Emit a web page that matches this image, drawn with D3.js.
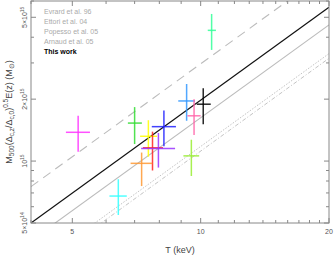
<!DOCTYPE html>
<html><head><meta charset="utf-8">
<script src="https://cdn.jsdelivr.net/npm/d3@7"></script>
<style>body{margin:0;background:#fff}svg{display:block}text{font-family:"Liberation Sans",Arial,sans-serif}</style>
</head><body><svg id="c" width="334" height="257"></svg>
<script>
// ---- data ----
const pointColors = ["#ff33ff","#33dd33","#ffff00","#ff2222","#9933ff","#2222ff","#ff9933","#33ffff","#3399ff","#ff66aa","#000000","#99ee33","#33ff99"];
const tempKeV  = [5.16, 7.00, 7.54, 7.71, 7.96, 8.20, 7.27, 6.41, 9.27, 9.65, 10.14, 9.51, 10.61];
const tempLo   = [4.83, 6.75, 7.21, 7.32, 7.25, 7.68, 6.85, 6.11, 8.86, 9.31, 9.79, 9.11, 10.39];
const tempHi   = [5.50, 7.28, 7.90, 8.16, 8.71, 8.75, 7.70, 6.71, 9.70, 10.0, 10.56, 9.92, 10.86];
const mass15   = [1.38, 1.53, 1.32, 1.16, 1.15, 1.47, 0.975, 0.676, 1.96, 1.66, 1.89, 1.06, 4.32];
const massLo15 = [1.11, 1.21, 1.05, 0.90, 0.93, 1.18, 0.756, 0.547, 1.57, 1.34, 1.51, 0.846, 3.47];
const massHi15 = [1.66, 1.83, 1.58, 1.39, 1.37, 1.76, 1.10, 0.816, 2.37, 2.00, 2.26, 1.27, 5.19];

const relNames = ["Evrard et al. 96","Ettori et al. 04","Popesso et al. 05","Arnaud et al. 05","This work"];
const relT     = [4, 20];
const relM15   = [[0.751, 8.40],[0.411, 4.59],[0.298, 3.33],[0.283, 3.16],[0.500, 5.59]];

const xTickVals = [5, 10, 20];
const xTickLabels = ["5","10","20"];
const xMinor = [4,6,7,8,9,11,12,13,14,15,16,17,18,19];
const yTickVals = [0.5, 1, 2, 5];
const yTickMant = ["5\u00d710","10","2\u00d710","5\u00d710"];
const yTickExp  = ["14","15","15","15"];
const yMinor = [0.6,0.7,0.8,0.9,3,4,6];

// ---- layout ----
const L=31, R=329, T=1, B=223;
const svg = d3.select("#c");
const x = d3.scaleLog().domain([4,20]).range([L,R]);
const y = d3.scaleLog().domain([0.5,6]).range([B,T]);

svg.append("clipPath").attr("id","clip").append("rect").attr("x",L).attr("y",T).attr("width",R-L).attr("height",B-T);

// relation lines
const relStyles = [
  {stroke:"#bbbbbb", dash:"9,6", w:1.1},
  {stroke:"#bbbbbb", dash:null, w:1.1},
  {stroke:"#c4c4c4", dash:"1.5,1.5", w:1},
  {stroke:"#c4c4c4", dash:"4,2,1,2", w:1},
  {stroke:"#111111", dash:null, w:1.2}
];
const lg = svg.append("g").attr("clip-path","url(#clip)");
relM15.forEach((m,i)=>{
  const st = relStyles[i];
  lg.append("line").attr("x1",x(relT[0])).attr("y1",y(m[0])).attr("x2",x(relT[1])).attr("y2",y(m[1]))
    .attr("stroke",st.stroke).attr("stroke-width",st.w).attr("stroke-dasharray",st.dash);
});

// error bar crosses
const pg = svg.append("g").attr("clip-path","url(#clip)");
tempKeV.forEach((t,i)=>{
  pg.append("line").attr("x1",x(tempLo[i])).attr("x2",x(tempHi[i])).attr("y1",y(mass15[i])).attr("y2",y(mass15[i]))
    .attr("stroke",pointColors[i]).attr("stroke-width",1.5).attr("opacity",0.85);
  pg.append("line").attr("x1",x(t)).attr("x2",x(t)).attr("y1",y(massLo15[i])).attr("y2",y(massHi15[i]))
    .attr("stroke",pointColors[i]).attr("stroke-width",1.5).attr("opacity",0.85);
});

// frame
const ax = svg.append("g").attr("stroke","#888").attr("stroke-width",1);
ax.append("rect").attr("x",L).attr("y",T).attr("width",R-L).attr("height",B-T).attr("fill","none");
xTickVals.forEach(v=>{ ax.append("line").attr("x1",x(v)).attr("x2",x(v)).attr("y1",B).attr("y2",B-5);
  ax.append("line").attr("x1",x(v)).attr("x2",x(v)).attr("y1",T).attr("y2",T+5); });
xMinor.forEach(v=>{ ax.append("line").attr("x1",x(v)).attr("x2",x(v)).attr("y1",B).attr("y2",B-3);
  ax.append("line").attr("x1",x(v)).attr("x2",x(v)).attr("y1",T).attr("y2",T+3); });
yTickVals.forEach(v=>{ ax.append("line").attr("y1",y(v)).attr("y2",y(v)).attr("x1",L).attr("x2",L+5);
  ax.append("line").attr("y1",y(v)).attr("y2",y(v)).attr("x1",R).attr("x2",R-5); });
yMinor.forEach(v=>{ ax.append("line").attr("y1",y(v)).attr("y2",y(v)).attr("x1",L).attr("x2",L+3);
  ax.append("line").attr("y1",y(v)).attr("y2",y(v)).attr("x1",R).attr("x2",R-3); });

// tick labels
xTickVals.forEach((v,i)=>{
  svg.append("text").attr("x",x(v)).attr("y",234).attr("text-anchor","middle").attr("font-size",7).attr("fill","#555").text(xTickLabels[i]);
});
yTickVals.forEach((v,i)=>{
  const t = svg.append("text").attr("transform",`translate(27,${y(v)}) rotate(-90)`).attr("text-anchor","middle").attr("font-size",7).attr("fill","#555");
  t.append("tspan").text(yTickMant[i]);
  t.append("tspan").attr("dy",-3).attr("font-size",5).text(yTickExp[i]);
});

// axis titles
svg.append("text").attr("x",(L+R)/2).attr("y",253).attr("text-anchor","middle").attr("font-size",9).attr("fill","#444").text("T (keV)");
const yt = svg.append("text").attr("transform",`translate(12,${(T+B)/2}) rotate(-90)`).attr("text-anchor","middle").attr("font-size",9).attr("fill","#444");
yt.append("tspan").text("M");
yt.append("tspan").attr("font-size",6.5).attr("dy",2).text("500");
yt.append("tspan").attr("dy",-2).text("(\u0394");
yt.append("tspan").attr("font-size",6.5).attr("dy",2).text("c,z");
yt.append("tspan").attr("dy",-2).text("/\u0394");
yt.append("tspan").attr("font-size",6.5).attr("dy",2).text("c,0");
yt.append("tspan").attr("dy",-2).text(")");
yt.append("tspan").attr("font-size",6.5).attr("dy",-4).text("0.5");
yt.append("tspan").attr("dy",4).text("E(z) (M");
yt.append("tspan").attr("font-size",6.5).attr("dy",2).text("\u2299");
yt.append("tspan").attr("dy",-2).text(")");

// legend
relNames.forEach((n,i)=>{
  svg.append("text").attr("x",44).attr("y",14+i*10).attr("font-size",7)
    .attr("fill", i===4 ? "#000" : "#aaa").attr("font-weight", i===4 ? "bold" : "normal").text(n);
});
</script></body></html>
